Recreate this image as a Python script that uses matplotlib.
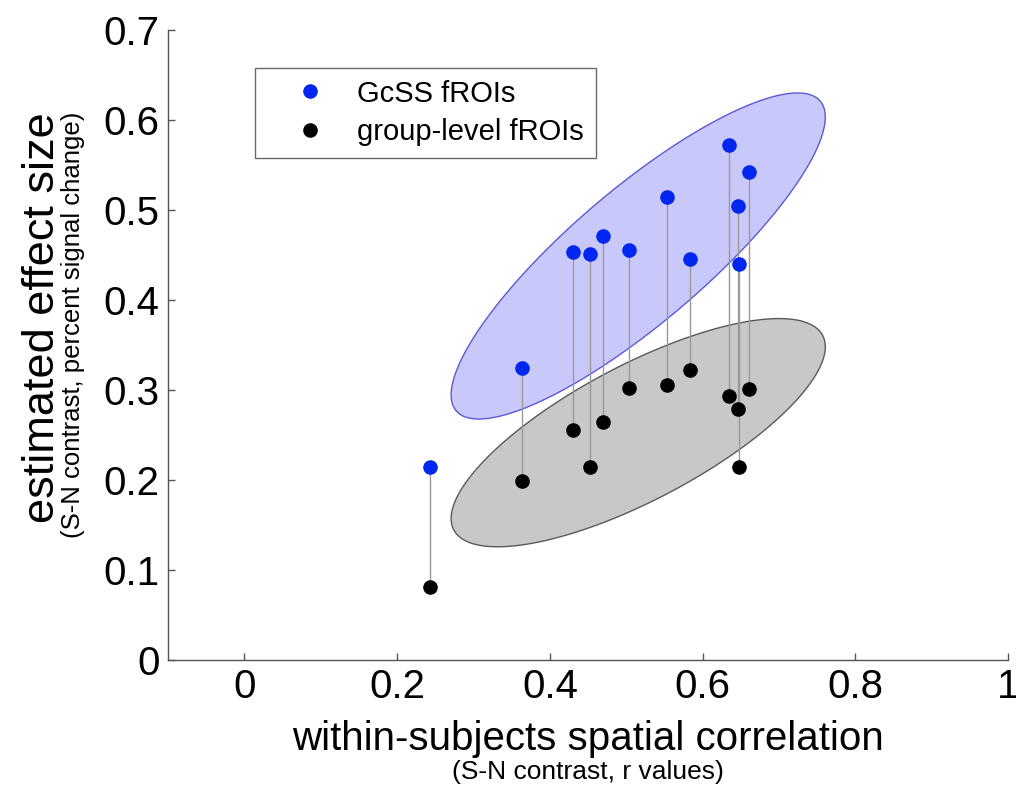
import numpy as np
import matplotlib
matplotlib.use('Agg')
import matplotlib.pyplot as plt

plt.rcParams['font.family'] = ['Liberation Sans', 'DejaVu Sans']

# within-subjects spatial correlation (same x for both fROI types)
r_values = [0.243, 0.363, 0.430, 0.452, 0.469, 0.504, 0.554, 0.583, 0.635, 0.647, 0.648, 0.661]
# estimated effect size, percent signal change
gcss_effect = [0.214, 0.324, 0.453, 0.451, 0.471, 0.456, 0.514, 0.446, 0.572, 0.504, 0.440, 0.542]
group_effect = [0.081, 0.199, 0.256, 0.214, 0.264, 0.302, 0.306, 0.322, 0.293, 0.279, 0.214, 0.301]

x_ticks = [0, 0.2, 0.4, 0.6, 0.8, 1]
x_ticklabels = ['0', '0.2', '0.4', '0.6', '0.8', '1']
y_ticks = [0, 0.1, 0.2, 0.3, 0.4, 0.5, 0.6, 0.7]
y_ticklabels = ['0', '0.1', '0.2', '0.3', '0.4', '0.5', '0.6', '0.7']


def cov_ellipse(x, y, k=1.96, n=200):
    # ellipse covering k standard deviations of the 2d point cloud
    x = np.asarray(x)
    y = np.asarray(y)
    c = np.cov(x, y, bias=True)
    L = np.linalg.cholesky(c)
    t = np.linspace(0, 2 * np.pi, n)
    pts = k * L @ np.vstack([np.cos(t), np.sin(t)])
    return x.mean() + pts[0], y.mean() + pts[1]


fig = plt.figure(figsize=(10.16, 7.96), dpi=100)
ax = fig.add_axes([168 / 1016, 136 / 796, 840 / 1016, 630 / 796])

ex, ey = cov_ellipse(r_values, gcss_effect)
ax.fill(ex, ey, facecolor='#c8c8fa', edgecolor='#5a5ad6', lw=1.0, zorder=1)
ex, ey = cov_ellipse(r_values, group_effect)
ax.fill(ex, ey, facecolor='#c8c8c8', edgecolor='#5a5a5a', lw=1.0, zorder=1)

ax.vlines(r_values, group_effect, gcss_effect, color='#999999', lw=1.0, zorder=2)
ax.plot(r_values, gcss_effect, 'o', color='#0026f0', ms=10.5, mec='none', zorder=3, label='GcSS fROIs')
ax.plot(r_values, group_effect, 'o', color='black', ms=10.5, mec='none', zorder=3, label='group-level fROIs')

ax.set_xlim(-0.1, 1)
ax.set_ylim(0, 0.7)
ax.set_xticks(x_ticks)
ax.set_xticklabels(x_ticklabels)
ax.set_yticks(y_ticks)
ax.set_yticklabels(y_ticklabels)
ax.spines['top'].set_visible(False)
ax.spines['right'].set_visible(False)
for s in ['left', 'bottom']:
    ax.spines[s].set_color('#555555')
    ax.spines[s].set_linewidth(1.0)
ax.tick_params(direction='in', length=5, width=1, color='#555555', labelsize=29, pad=6)

leg = ax.legend(loc='upper left', bbox_to_anchor=(255 / 1016, 1 - 68 / 796),
                bbox_transform=fig.transFigure, borderaxespad=0, fontsize=21,
                handlelength=3.0, handletextpad=0.1, borderpad=0.4, labelspacing=0.36,
                fancybox=False, numpoints=1)
leg.get_frame().set_edgecolor('#444444')
leg.get_frame().set_linewidth(1.0)

fig.text(588 / 1016, 1 - 750 / 796, 'within-subjects spatial correlation',
         ha='center', va='baseline', fontsize=29)
fig.text(588 / 1016, 1 - 779 / 796, '(S-N contrast, r values)',
         ha='center', va='baseline', fontsize=19)
fig.text(54 / 1016, 1 - 318 / 796, 'estimated effect size', rotation=90,
         rotation_mode='anchor', ha='center', va='baseline', fontsize=32.5)
fig.text(80 / 1016, 1 - 325 / 796, '(S-N contrast, percent signal change)', rotation=90,
         rotation_mode='anchor', ha='center', va='baseline', fontsize=18.5)

fig.savefig('out.png', dpi=100)
